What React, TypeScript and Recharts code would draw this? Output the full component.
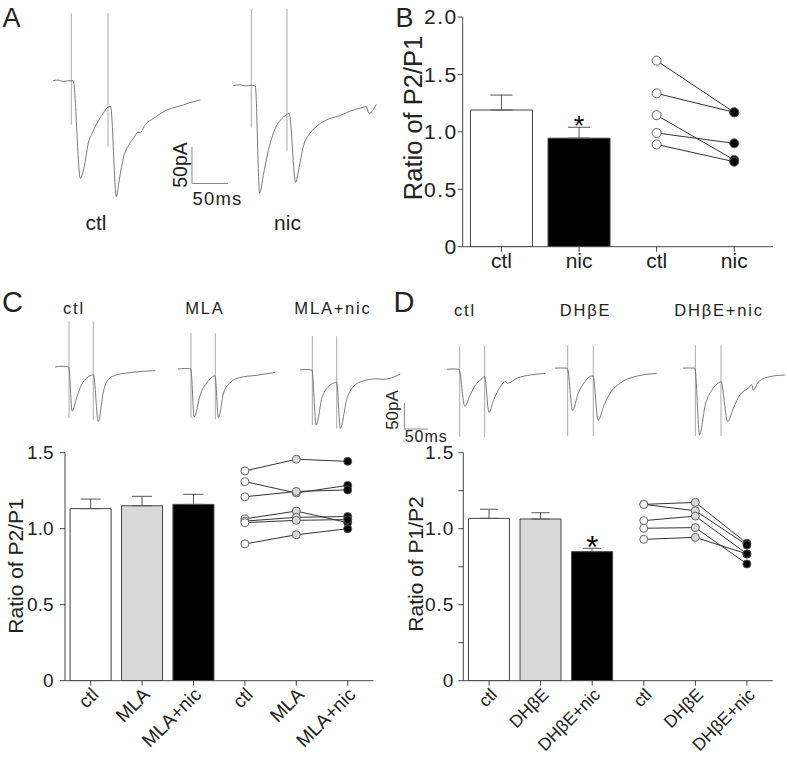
import React from 'react';
import {
  LineChart, Line, XAxis, YAxis, ReferenceLine, ComposedChart, Bar, Cell, ErrorBar, ReferenceDot,
} from 'recharts';

const FONT = '"Liberation Sans", Arial, Helvetica, sans-serif';
const INK = '#222';
const AXIS = '#444';

// ---------- Panel A traces (t in ms, I in pA) ----------
const tA_ctl = [0, 7, 14, 21, 28, 38, 43, 49, 55, 61, 70, 75, 80, 88, 92, 98, 105, 112, 118, 121, 128, 140, 149, 158, 170, 181, 193, 205];
const iA_ctl = [0, 1, -1, 0, 0, -133, -119, -85, -70, -58, -44, -37, -35, -158, -135, -104, -88, -78, -70, -71, -60, -51, -45, -40, -36, -33, -29, -26];
const stimA_ctl = [25.4, 76.4];
const stimA_ctl_low = [-60, -90];

const tA_nic = [0, 10, 17, 27, 31, 37, 42, 49, 55, 61, 68, 76, 78, 87, 91, 98, 107, 116, 124, 135, 149, 163, 177, 185, 189, 199];
const iA_nic = [0, 0.7, -0.7, 0, -1, -147, -123, -89, -68, -54, -45, -39, -38, -132, -116, -82, -65, -56, -50, -45, -41, -35, -31, -29, -38, -26];
const stimA_nic = [25.4, 75];
const stimA_nic_low = [-57, -89];

// ---------- Panel C traces ----------
const tC_ctl = [0, 15, 29, 36, 46, 56, 67, 77, 81, 91, 102, 112, 130, 147, 165, 189, 211];
const iC_ctl = [0, 1.5, 0, -85, -58, -34, -21, -16, -15, -105, -47, -24, -15, -12, -10, -8, -7];
const stimC_ctl = [29.5, 80.6];
const stimC_ctl_low = [-98, -101];

const tC_mla = [0, 15, 27, 34, 47, 61, 75, 78, 85, 96, 110, 128, 166, 205];
const iC_mla = [0, 1, 0, -92, -49, -26, -14, -13, -94, -46, -26, -17, -12, -6.5];
const stimC_mla = [27.4, 78.5];
const stimC_mla_low = [-94, -97];

const tC_nic = [0, 12, 25, 34, 46, 60, 74, 77, 85, 98, 112, 133, 161, 175, 211];
const iC_nic = [0, 1, 0, -106, -54, -32, -24, -23, -112, -58, -32, -21, -17, -18, -8];
const stimC_nic = [26, 77.3];
const stimC_nic_low = [-106, -112];

// ---------- Panel D traces ----------
const tD_ctl = [0, 13, 25, 37, 49, 60, 70, 79, 88, 98, 109, 123, 127, 148, 176, 207];
const iD_ctl = [0, 0.5, 0, -71, -49, -30, -21, -14, -83, -59, -38, -24, -27, -17, -11, -8];
const stimD_ctl = [26.5, 79];

const tD_dhbe = [0, 12, 26, 37, 49, 63, 77, 80, 91, 102, 116, 137, 165, 214];
const iD_dhbe = [0, 0.5, 0, -81, -48, -26, -15, -15, -100, -74, -48, -29, -17, -10];
const stimD_dhbe = [26.7, 80.6];

const tD_nic = [0, 12, 25, 35, 47, 61, 75, 80, 94, 106, 120, 138, 145, 148, 159, 184, 215];
const iD_nic = [0, 0.5, 0, -128, -70, -42, -28, -26, -103, -77, -51, -38, -32, -42, -26, -16, -13];
const stimD_nic = [26, 80];
const stimD_low = [-130, -130];

// ---------- Panel B ----------
const catsB = ['ctl', 'nic', 'ctl', 'nic'];
const meanB = [1.19, 0.945];
const semB = [0.13, 0.095];
const ctlB = [1.62, 1.335, 1.145, 0.99, 0.89];
const nicB = [1.17, 1.17, 0.755, 0.9, 0.74];

// ---------- Panel C ----------
const catsC = ['ctl', 'MLA', 'MLA+nic', 'ctl', 'MLA', 'MLA+nic'];
const meanC = [1.132, 1.151, 1.16];
const semC = [0.063, 0.062, 0.066];
const ctlC = [1.38, 1.31, 1.21, 1.065, 1.05, 1.04, 0.9];
const mlaC = [1.457, 1.235, 1.245, 1.116, 1.075, 1.055, 0.96];
const nicC = [1.443, 1.285, 1.255, 1.04, 1.08, 1.06, 1.0];

// ---------- Panel D ----------
const catsD = ['ctl', 'DHβE', 'DHβE+nic', 'ctl', 'DHβE', 'DHβE+nic'];
const meanD = [1.068, 1.064, 0.849];
const semD = [0.06, 0.041, 0.022];
const ctlD = [1.16, 1.16, 1.053, 1.003, 0.93];
const dhbeD = [1.173, 1.118, 1.083, 1.007, 0.943];
const nicD = [0.904, 0.893, 0.834, 0.768, 0.834];

// ---------- Trace component ----------
type Box = { x0: number; y0: number; sx: number; sy: number; tMin: number; tMax: number; iMin: number; iMax: number };
type ScaleBar = { t: number; i: number; dt: number; di: number };

function Trace(props: {
  t: number[]; i: number[]; stim: number[]; stimTop: number; stimLow: number[]; box: Box; bar?: ScaleBar;
}) {
  const { t, i, stim, stimTop, stimLow, box, bar } = props;
  const data = t.map((tt, k) => ({ t: tt, i: i[k] }));
  const left = box.x0 + box.tMin * box.sx;
  const top = box.y0 - box.iMax * box.sy;
  const width = (box.tMax - box.tMin) * box.sx;
  const height = (box.iMax - box.iMin) * box.sy;
  return (
    <div style={{ position: 'absolute', left, top }}>
      <LineChart width={width} height={height} data={data} margin={{ top: 0, right: 0, bottom: 0, left: 0 }}>
        <XAxis type="number" dataKey="t" domain={[box.tMin, box.tMax]} hide allowDataOverflow />
        <YAxis type="number" domain={[box.iMin, box.iMax]} hide allowDataOverflow />
        {stim.map((s, k) => (
          <ReferenceLine key={'s' + k} segment={[{ x: s, y: stimTop }, { x: s, y: stimLow[k] }]} stroke="#ababab" strokeWidth={1} ifOverflow="visible" />
        ))}
        {bar && (
          <ReferenceLine segment={[{ x: bar.t, y: bar.i }, { x: bar.t, y: bar.i - bar.di }]} stroke="#888" strokeWidth={1} ifOverflow="visible" />
        )}
        {bar && (
          <ReferenceLine segment={[{ x: bar.t, y: bar.i - bar.di }, { x: bar.t + bar.dt, y: bar.i - bar.di }]} stroke="#888" strokeWidth={1} ifOverflow="visible" />
        )}
        <Line dataKey="i" type="monotone" stroke="#6a6a6a" strokeWidth={0.9} dot={false} isAnimationActive={false} />
      </LineChart>
    </div>
  );
}

// ---------- Bar + paired chart ----------
type Layout = { left: number; top: number; width: number; height: number; yw: number; right: number; mtop: number; xh: number };

function PairedChart(props: {
  cats: string[]; means: number[]; sems: number[]; barFills: string[]; groups: number[][]; dotFills: string[];
  layout: Layout; yMax: number; yTicks: number[]; labelTicks: number[]; rotated: boolean; r: number;
  tickFont: number; tickSpacing: number; tickMargin: number; xFont: number; capW: number;
  starIndex: number; starFont: number;
}) {
  const { cats, means, sems, barFills, groups, dotFills, layout, yMax, yTicks, labelTicks, rotated, r,
    tickFont, tickSpacing, tickMargin, xFont, capW, starIndex, starFont } = props;
  const nBars = means.length;
  const nPairs = groups[0].length;
  const ids = cats.map((c, k) => 'c' + k);
  const data = cats.map((c, k) => {
    const row: any = { id: ids[k] };
    if (k < nBars) {
      row.mean = means[k];
      row.err = [0, sems[k]];
    }
    for (let p = 0; p < nPairs; p++) {
      row['p' + p] = k >= nBars ? groups[k - nBars][p] : null;
    }
    return row;
  });
  const dot = (pr: any) => {
    const key = 'd' + pr.index + '-' + pr.dataKey;
    if (pr.value == null || pr.cy == null || isNaN(pr.cy)) return <g key={key} />;
    return <circle key={key} cx={pr.cx} cy={pr.cy} r={r} fill={dotFills[pr.index]} stroke="#555" strokeWidth={0.9} />;
  };
  const yTick = (pr: any) => {
    const v = pr.payload.value;
    if (!labelTicks.some((l) => Math.abs(l - v) < 1e-9)) return <g />;
    const s = v === 0 ? '0' : v.toFixed(1);
    return (
      <text x={pr.x + tickSpacing} y={pr.y} dy="0.355em" textAnchor="end" fontSize={tickFont} fontFamily={FONT} fill={INK} style={{ letterSpacing: tickSpacing }}>
        {s}
      </text>
    );
  };
  const xTick = (pr: any) => {
    const idx = ids.indexOf(pr.payload.value);
    const label = cats[idx];
    if (rotated) {
      const ax = pr.x + 9;
      const ay = pr.y + 10;
      return (
        <text x={ax} y={ay} textAnchor="end" fontSize={xFont} fontFamily={FONT} fill={INK} transform={`rotate(-45 ${ax} ${ay})`}>
          {label}
        </text>
      );
    }
    return (
      <text x={pr.x} y={pr.y} dy="0.71em" textAnchor="middle" fontSize={xFont} fontFamily={FONT} fill={INK}>
        {label}
      </text>
    );
  };
  const starY = means[starIndex] + sems[starIndex];
  const starLabel = (lp: any) => {
    const vb = lp.viewBox || {};
    const cx = (vb.x ?? 0) + (vb.width ?? 0) / 2;
    const cy = (vb.y ?? 0) + (vb.height ?? 0) / 2;
    return (
      <text x={cx} y={cy - 8 + 0.58 * starFont} textAnchor="middle" fontSize={starFont} fontFamily={FONT} fill="#000">
        *
      </text>
    );
  };
  return (
    <div style={{ position: 'absolute', left: layout.left, top: layout.top }}>
      <ComposedChart width={layout.width} height={layout.height} data={data} barCategoryGap="10%"
        margin={{ top: layout.mtop, right: layout.right, bottom: 0, left: 0 }}>
        <XAxis dataKey="id" type="category" height={layout.xh} tickSize={5} tickMargin={rotated ? 0 : tickMargin}
          axisLine={{ stroke: AXIS }} tickLine={{ stroke: AXIS }} tick={xTick} interval={0} />
        <YAxis type="number" domain={[0, yMax]} ticks={yTicks} width={layout.yw} tickSize={5} tickMargin={tickMargin}
          axisLine={{ stroke: AXIS }} tickLine={{ stroke: AXIS }} tick={yTick} interval={0} allowDataOverflow />
        <Bar dataKey="mean" stroke="#444" strokeWidth={1} isAnimationActive={false}>
          {data.map((d, k) => (
            <Cell key={'b' + k} fill={barFills[k] || 'none'} />
          ))}
          <ErrorBar dataKey="err" width={capW} stroke="#555" strokeWidth={1} direction="y" />
        </Bar>
        {groups[0].map((_, p) => (
          <Line key={'p' + p} dataKey={'p' + p} type="linear" stroke="#333" strokeWidth={1}
            dot={dot} activeDot={false} isAnimationActive={false} />
        ))}
        {starIndex >= 0 && (
          <ReferenceDot x={ids[starIndex]} y={starY} r={0} stroke="none" fill="none" label={starLabel} ifOverflow="visible" />
        )}
      </ComposedChart>
    </div>
  );
}

function T(props: { x: number; y: number; size: number; anchor?: string; ls?: number; rot?: boolean; children: any }) {
  const { x, y, size, anchor, ls, rot, children } = props;
  return (
    <text x={x} y={y} fontSize={size} fontFamily={FONT} fill={INK} textAnchor={anchor || 'start'}
      style={{ letterSpacing: ls || 0 }} transform={rot ? `rotate(-90 ${x} ${y})` : undefined}
      dy={rot ? '0.358em' : undefined}>
      {children}
    </text>
  );
}

export default function App() {
  const bigA: Box = { x0: 52.7, y0: 80.7, sx: 0.72, sy: 0.734, tMin: 0, tMax: 250, iMin: -165, iMax: 110 };
  const bigA2: Box = { x0: 232.7, y0: 85, sx: 0.72, sy: 0.734, tMin: 0, tMax: 205, iMin: -160, iMax: 115 };
  const sC = { sx: 0.475, sy: 0.52 };
  return (
    <div style={{ position: 'absolute', left: 0, top: 0, width: 787, height: 757, background: '#fff', overflow: 'hidden' }}>
      {/* Panel A */}
      <Trace t={tA_ctl} i={iA_ctl} stim={stimA_ctl} stimTop={92} stimLow={stimA_ctl_low} box={bigA}
        bar={{ t: 193, i: -90, dt: 50, di: 50 }} />
      <Trace t={tA_nic} i={iA_nic} stim={stimA_nic} stimTop={104} stimLow={stimA_nic_low} box={bigA2} />

      {/* Panel C traces */}
      <Trace t={tC_ctl} i={iC_ctl} stim={stimC_ctl} stimTop={88} stimLow={stimC_ctl_low}
        box={{ x0: 55, y0: 367.3, ...sC, tMin: 0, tMax: 215, iMin: -115, iMax: 100 }} />
      <Trace t={tC_mla} i={iC_mla} stim={stimC_mla} stimTop={69} stimLow={stimC_mla_low}
        box={{ x0: 177.7, y0: 369.3, ...sC, tMin: 0, tMax: 215, iMin: -115, iMax: 100 }} />
      <Trace t={tC_nic} i={iC_nic} stim={stimC_nic} stimTop={65} stimLow={stimC_nic_low}
        box={{ x0: 300, y0: 370, ...sC, tMin: 0, tMax: 215, iMin: -120, iMax: 100 }} />

      {/* Panel D traces */}
      <Trace t={tD_ctl} i={iD_ctl} stim={stimD_ctl} stimTop={45} stimLow={stimD_low}
        box={{ x0: 446.7, y0: 369.3, ...sC, tMin: -95, tMax: 215, iMin: -140, iMax: 60 }}
        bar={{ t: -90, i: -65, dt: 50, di: 50 }} />
      <Trace t={tD_dhbe} i={iD_dhbe} stim={stimD_dhbe} stimTop={44} stimLow={stimD_low}
        box={{ x0: 555, y0: 368.3, ...sC, tMin: 0, tMax: 215, iMin: -140, iMax: 60 }} />
      <Trace t={tD_nic} i={iD_nic} stim={stimD_nic} stimTop={44} stimLow={stimD_low}
        box={{ x0: 682.7, y0: 368.3, ...sC, tMin: 0, tMax: 216, iMin: -140, iMax: 60 }} />

      {/* Panel B */}
      <PairedChart cats={catsB} means={meanB} sems={semB} barFills={['#fff', '#000']} groups={[ctlB, nicB]}
        dotFills={['#fff', '#000', '#fff', '#000']}
        layout={{ left: 390, top: 0, width: 397, height: 290, yw: 72.7, right: 14, mtop: 17, xh: 43.3 }}
        yMax={2} yTicks={[0, 0.5, 1, 1.5, 2]} labelTicks={[0, 0.5, 1, 1.5, 2]} rotated={false} r={4.5}
        tickFont={21} tickSpacing={1.5} tickMargin={1.5} xFont={21} capW={11} starIndex={1} starFont={27} />

      {/* Panel C */}
      <PairedChart cats={catsC} means={meanC} sems={semC} barFills={['#fff', '#d9d9d9', '#000']} groups={[ctlC, mlaC, nicC]}
        dotFills={['#fff', '#d9d9d9', '#000', '#fff', '#d9d9d9', '#000']}
        layout={{ left: 0, top: 430, width: 390, height: 327, yw: 65, right: 16.6, mtop: 22.7, xh: 76.3 }}
        yMax={1.5} yTicks={[0, 0.5, 1, 1.5]} labelTicks={[0, 0.5, 1, 1.5]} rotated={true} r={4}
        tickFont={19} tickSpacing={0} tickMargin={6.5} xFont={19} capW={10} starIndex={-1} starFont={26} />

      {/* Panel D */}
      <PairedChart cats={catsD} means={meanD} sems={semD} barFills={['#fff', '#d9d9d9', '#000']} groups={[ctlD, dhbeD, nicD]}
        dotFills={['#fff', '#d9d9d9', '#000', '#fff', '#d9d9d9', '#000']}
        layout={{ left: 390, top: 430, width: 397, height: 327, yw: 73.3, right: 14.3, mtop: 22.7, xh: 76.3 }}
        yMax={1.5} yTicks={[0, 0.25, 0.5, 0.75, 1, 1.25, 1.5]} labelTicks={[0, 0.5, 1, 1.5]} rotated={true} r={4}
        tickFont={19} tickSpacing={1} tickMargin={5} xFont={17.5} capW={9} starIndex={2} starFont={31} />

      {/* Text overlay */}
      <svg width={787} height={757} style={{ position: 'absolute', left: 0, top: 0, pointerEvents: 'none' }}>
        <T x={2.5} y={26.5} size={27}>A</T>
        <T x={395.5} y={26.5} size={27}>B</T>
        <T x={2} y={311.5} size={29}>C</T>
        <T x={393.5} y={311.5} size={29}>D</T>

        <T x={96} y={230} size={21} anchor="middle">ctl</T>
        <T x={287.5} y={230} size={21} anchor="middle">nic</T>
        <T x={192.5} y={205} size={18.5} ls={1.2}>50ms</T>
        <T x={180} y={165} size={19.5} anchor="middle" rot>50pA</T>

        <T x={413.3} y={118} size={25.5} anchor="middle" rot>Ratio of P2/P1</T>
        <T x={15} y={566} size={21} anchor="middle" rot>Ratio of P2/P1</T>
        <T x={415} y={564} size={21} anchor="middle" rot>Ratio of P1/P2</T>

        <T x={74} y={314} size={16.5} anchor="middle" ls={1.8}>ctl</T>
        <T x={205} y={314} size={16.5} anchor="middle" ls={1.8}>MLA</T>
        <T x={333} y={314} size={16.5} anchor="middle" ls={1.8}>MLA+nic</T>

        <T x={465} y={315.7} size={16.5} anchor="middle" ls={1.8}>ctl</T>
        <T x={585.5} y={315.7} size={16.5} anchor="middle" ls={1.8}>DHβE</T>
        <T x={719} y={315.7} size={16.5} anchor="middle" ls={1.8}>DHβE+nic</T>

        <T x={404.7} y={442} size={16} ls={1}>50ms</T>
        <T x={392} y={410} size={17} anchor="middle" rot>50pA</T>
      </svg>
    </div>
  );
}
